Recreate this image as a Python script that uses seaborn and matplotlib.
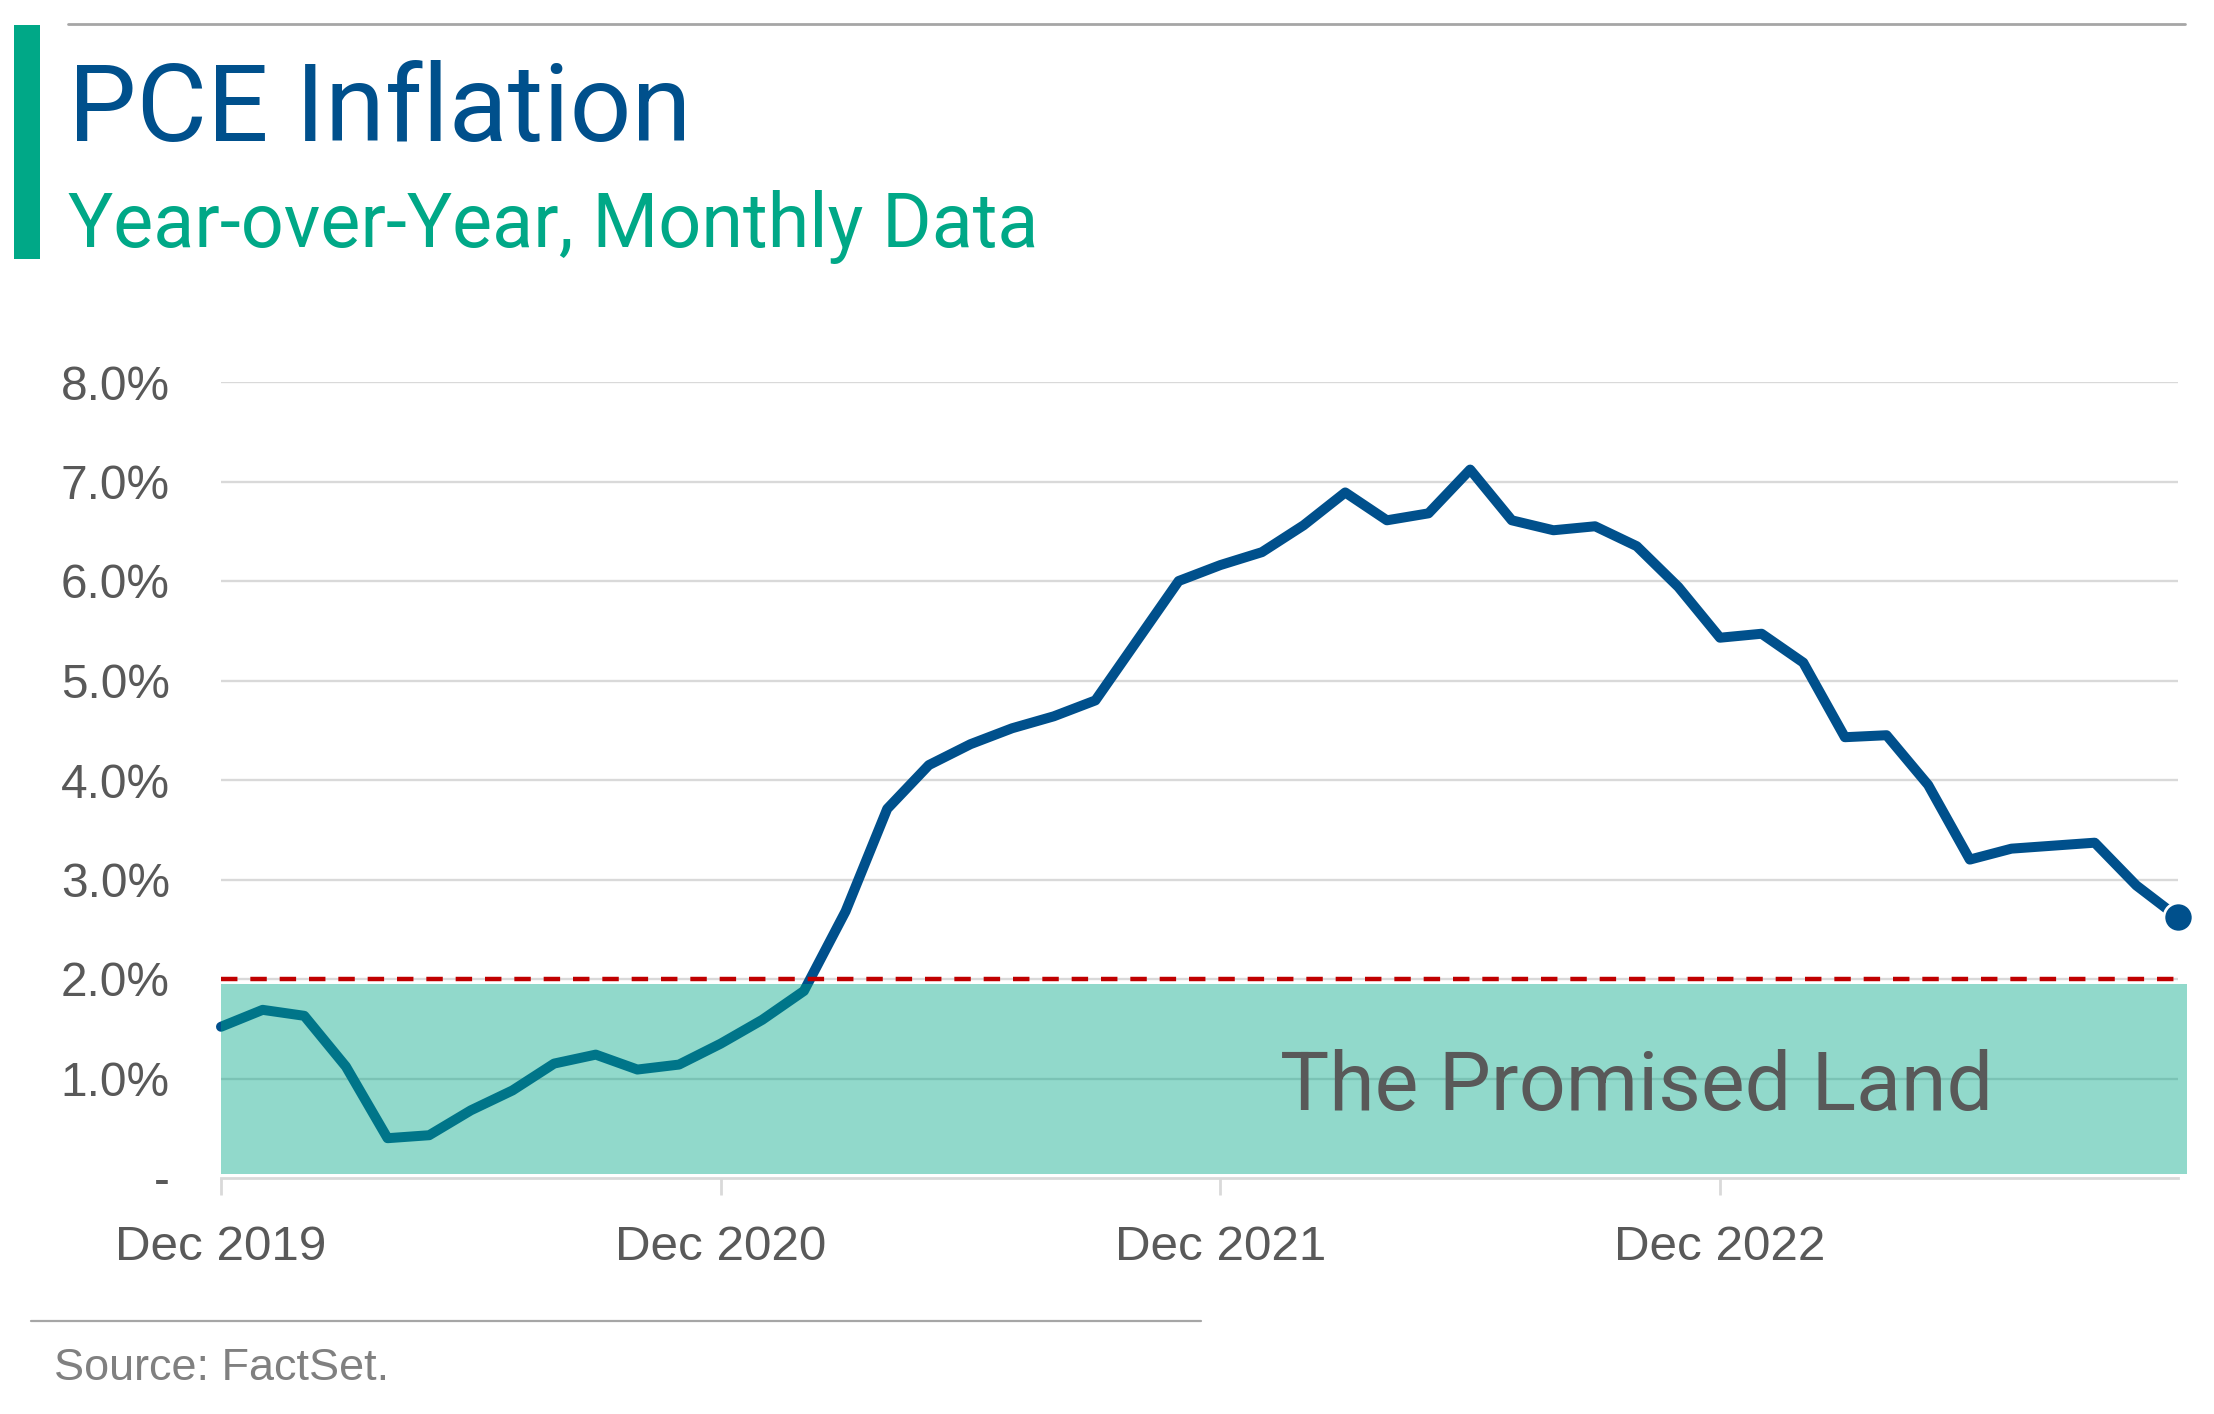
import matplotlib
matplotlib.use("Agg")
import matplotlib.pyplot as plt
from matplotlib.patches import Rectangle
from matplotlib.lines import Line2D
import seaborn as sns
import pandas as pd

# ---- data ----
months = pd.date_range("2019-12-01", "2023-11-01", freq="MS")
pce_yoy = [1.52, 1.69, 1.63, 1.12, 0.40, 0.43, 0.68, 0.88, 1.15, 1.24, 1.09, 1.14,
           1.35, 1.59, 1.88, 2.68, 3.71, 4.15, 4.36, 4.52, 4.64, 4.80, 5.40, 6.00,
           6.16, 6.29, 6.56, 6.89, 6.61, 6.68, 7.12, 6.61, 6.51, 6.55, 6.35, 5.94,
           5.43, 5.47, 5.18, 4.43, 4.45, 3.95, 3.20, 3.31, 3.34, 3.37, 2.94, 2.62]
y_ticks = [0, 1, 2, 3, 4, 5, 6, 7, 8]
y_tick_labels = ["-", "1.0%", "2.0%", "3.0%", "4.0%", "5.0%", "6.0%", "7.0%", "8.0%"]
x_tick_labels = ["Dec 2019", "Dec 2020", "Dec 2021", "Dec 2022"]
target = 2.0
band_low, band_high = 0.04, 1.95

title = "PCE Inflation"
subtitle = "Year-over-Year, Monthly Data"
source = "Source: FactSet."
band_label = "The Promised Land"

df = pd.DataFrame({"idx": range(len(months)), "month": months, "value": pce_yoy})
x_tick_pos = [i for i, m in enumerate(months) if m.month == 12]

# ---- style ----
BLUE = "#00508C"
GREEN = "#00A887"
GRAY_TXT = "#595959"
GRID = "#D9D9D9"
HEAD_FONT = ["Roboto", "DejaVu Sans"]

sns.set_theme(style="white")
plt.rcParams["font.family"] = ["Liberation Sans", "DejaVu Sans"]

W, H, DPI = 2214, 1414, 200
fig = plt.figure(figsize=(W / DPI, H / DPI), dpi=DPI)
ax = fig.add_axes([221 / W, 1 - 1178 / H, (2178 - 221) / W, (1178 - 382) / H])

# grid lines
for yv in y_ticks[1:]:
    ax.axhline(yv, color=GRID, lw=0.85, zorder=1)

sns.lineplot(data=df, x="idx", y="value", color=BLUE, lw=3.6, ax=ax,
             zorder=3, clip_on=False)
ax.plot(df["idx"].iloc[-1], df["value"].iloc[-1], "o", color=BLUE, ms=10.5,
        mec="white", mew=1.0, zorder=4, clip_on=False)

# band
ax.axhspan(band_low, band_high, xmin=0, xmax=1.0045, color=GREEN, alpha=0.43,
           lw=0, zorder=5, clip_on=False)
ax.axhline(target, xmin=0, xmax=1.004, color="#C00000", lw=1.6,
           dashes=(3.7, 2.9), zorder=6, clip_on=False)

ax.text(25.43, 0.68, band_label, fontsize=29.7, color=GRAY_TXT,
        family=HEAD_FONT, va="baseline", ha="left", zorder=7)

ax.set_xlim(0, len(months) - 1)
ax.set_ylim(0, 8)
ax.set_yticks(y_ticks)
ax.set_yticklabels(y_tick_labels)
ax.set_xticks(x_tick_pos)
ax.set_xticklabels(x_tick_labels)
ax.set_xlabel("")
ax.set_ylabel("")
for s in ["top", "right", "left"]:
    ax.spines[s].set_visible(False)
ax.spines["bottom"].set_color(GRID)
ax.spines["bottom"].set_linewidth(1.0)
ax.spines["bottom"].set_zorder(2)
ax.tick_params(axis="y", length=0, pad=18.4, labelsize=17.2, labelcolor=GRAY_TXT)
ax.tick_params(axis="x", length=6.1, width=1.0, color=GRID, direction="out",
               pad=10.8, labelsize=17.8, labelcolor=GRAY_TXT, bottom=True)

# ---- header / footer ----
fig.patches.append(Rectangle((14 / W, 1 - 259 / H), 26 / W, 234 / H,
                             transform=fig.transFigure, color=GREEN, lw=0))
fig.lines.append(Line2D([68 / W, 2185 / W], [1 - 24 / H, 1 - 24 / H],
                        transform=fig.transFigure, color="#A6A6A6", lw=1.0))
fig.lines.append(Line2D([31 / W, 1201 / W], [1 - 1321 / H, 1 - 1321 / H],
                        transform=fig.transFigure, color="#A6A6A6", lw=0.8))
fig.text(68 / W, 1 - 141 / H, title, fontsize=39, color=BLUE,
         family=HEAD_FONT, va="baseline", ha="left")
fig.text(68 / W, 1 - 247 / H, subtitle, fontsize=27.2, color=GREEN,
         family=HEAD_FONT, va="baseline", ha="left")
fig.text(54 / W, 1 - 1380 / H, source, fontsize=16.2, color="#808080",
         va="baseline", ha="left")

fig.savefig("out.png", dpi=DPI)
